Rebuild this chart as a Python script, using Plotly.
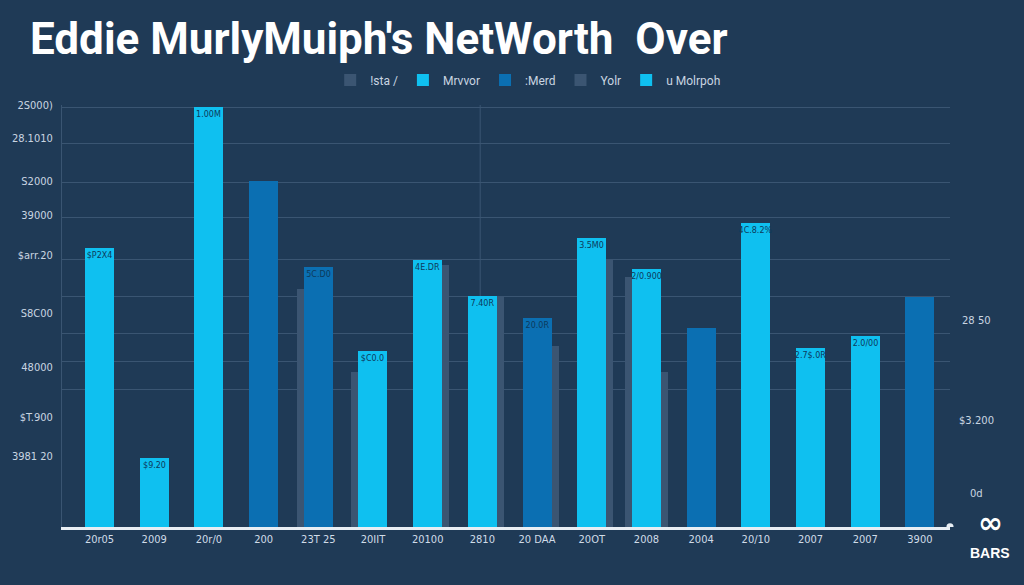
import plotly.graph_objects as go

# ---- data ----
x_labels = ["20r05", "2009", "20r/0", "200", "23T 25", "20IIT", "20100", "2810",
            "20 DAA", "20OT", "2008", "2004", "20/10", "2007", "2007", "3900"]
values = [165, 41, 249, 205, 154, 104, 158, 137, 124, 171, 153, 118, 180, 106, 113, 136]
series = ["Mrvvor", "Mrvvor", "Mrvvor", ":Merd", ":Merd", "Mrvvor", "Mrvvor", "Mrvvor",
          ":Merd", "u Molrpoh", "u Molrpoh", ":Merd", "u Molrpoh", "u Molrpoh", "u Molrpoh", ":Merd"]
bar_labels = ["$P2X4", "$9.20", "1.00M", "", "5C.D0", "$C0.0", "4E.DR", "7.40R",
              "20.0R", "3.5M0", "2/0.900", "", "4C.8.2%", "2.7$.0R", "2.0/00", ""]
shadow_left = [None, None, None, None, 141, 92, None, None, None, None, 148, None, None, None, None, None]
shadow_right = [None, None, None, None, None, None, 155, 137, 107, 159, 92, None, None, None, None, None]

y_tick_vals = [250, 230.4, 205, 184.8, 161.1, 126.8, 94.8, 65.2, 42.1]
y_tick_labels = ["2S000)", "28.1010", "S2000", "39000", "$arr.20", "S8C00", "48000", "$T.900", "3981 20"]
grid_vals = [248.8, 226.9, 203.8, 183.1, 158.2, 136.3, 114.9, 98.3, 81.2]
right_vals = [122.6, 62.8, 20.1]
right_labels = ["28 50", "$3.200", "0d"]

title = "Eddie MurlyMuiph's NetWorth\u00a0\u00a0Over"

# ---- styles ----
BG = "#1f3a56"
LIGHT = "#0fc0f0"
DARK = "#0b6fb2"
SHADOW = "#3b5572"
GRID = "#3a5572"
colors = {"Mrvvor": LIGHT, ":Merd": DARK, "u Molrpoh": LIGHT}
W = 0.53
idx = list(range(len(values)))

fig = go.Figure()

fig.add_trace(go.Bar(
    x=idx, y=shadow_left, name="!sta /", marker=dict(color=SHADOW, line=dict(width=0)),
    width=W, offset=-W / 2 - 0.13, legendrank=1, hoverinfo="skip"))
fig.add_trace(go.Bar(
    x=idx, y=shadow_right, name="Yolr", marker=dict(color=SHADOW, line=dict(width=0)),
    width=W, offset=-W / 2 + 0.13, legendrank=4, hoverinfo="skip"))

ranks = {"Mrvvor": 2, ":Merd": 3, "u Molrpoh": 5}
for s in ["Mrvvor", ":Merd", "u Molrpoh"]:
    xs = [i for i in idx if series[i] == s]
    fig.add_trace(go.Bar(
        x=xs, y=[values[i] for i in xs], text=[bar_labels[i] for i in xs],
        name=s, marker=dict(color=colors[s], line=dict(width=0)), width=W, legendrank=ranks[s],
        textposition="inside", insidetextanchor="end", constraintext="none",
        textangle=0, textfont=dict(size=8, color="#0d3a5c", family="DejaVu Sans")))

fig.add_shape(type="line", xref="x", yref="paper", x0=6.96, x1=6.96, y0=0, y1=1,
              line=dict(color=GRID, width=1), layer="below")
fig.add_shape(type="circle", xref="paper", yref="y", x0=1.0 - 0.004, x1=1.0 + 0.004,
              y0=-2.2, y1=2.2, fillcolor="#e8eef4", line=dict(width=0))

for v, t in zip(right_vals, right_labels):
    fig.add_annotation(x=1.03, xref="paper", y=v, yref="y", text=t, showarrow=False,
                       xanchor="center", font=dict(size=10, color="#c9d5e1", family="DejaVu Sans"))

# logo
fig.add_annotation(x=1.0, xref="paper", xanchor="center", xshift=40, y=-0.035, yref="paper",
                   text="<b>\u221e</b>", showarrow=False,
                   font=dict(size=30, color="white", family="DejaVu Sans"))
fig.add_annotation(x=1.0, xref="paper", xanchor="center", xshift=40, y=-0.085, yref="paper",
                   text="<b>BARS</b>", showarrow=False,
                   font=dict(size=14, color="white", family="Liberation Sans"))

fig.update_layout(
    width=1024, height=585,
    paper_bgcolor=BG, plot_bgcolor=BG,
    margin=dict(l=62, r=74, t=105, b=58),
    barmode="overlay",
    bargap=0,
    title=dict(text=f"<b>{title}</b>", x=30 / 1024, xanchor="left", y=1 - 39 / 585, yanchor="middle",
               font=dict(size=44, color="white", family="Roboto, sans-serif")),
    legend=dict(orientation="h", x=0.525, xanchor="center", y=1.059, yanchor="middle",
                font=dict(size=12, color="#c9d5e1", family="Roboto"),
                bgcolor="rgba(0,0,0,0)", traceorder="normal", itemwidth=30),
    showlegend=True,
    xaxis=dict(range=[-0.686, 15.55], tickvals=idx, ticktext=x_labels, showgrid=False,
               zeroline=False, showline=True, linecolor="#e8eef4", linewidth=2.5,
               tickfont=dict(size=11, color="#d0dce8", family="DejaVu Sans Condensed, DejaVu Sans"),
               ticks=""),
    yaxis=dict(range=[0, 250], tickvals=y_tick_vals, ticktext=y_tick_labels, showgrid=False,
               zeroline=False, showline=True, linecolor=GRID, linewidth=1, ticks="",
               ticklabelstandoff=6,
               tickfont=dict(size=11, color="#c9d5e1", family="DejaVu Sans Condensed, DejaVu Sans"),
               minor=dict(tickvals=grid_vals, showgrid=True, gridcolor=GRID, gridwidth=1)),
)

fig.write_html("out.html", config={"displayModeBar": False},
               post_script="document.body.style.margin='0';document.body.style.overflow='hidden';")
